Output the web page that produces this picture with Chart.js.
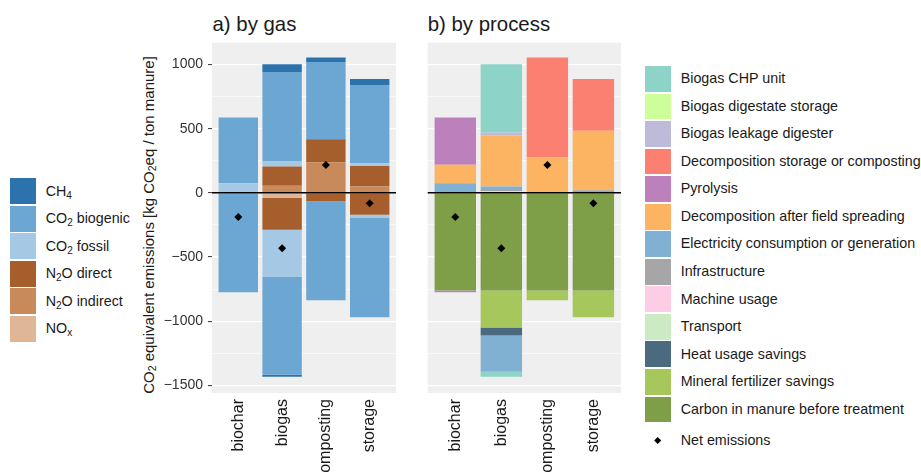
<!DOCTYPE html>
<html>
<head>
<meta charset="utf-8">
<script src="https://cdn.jsdelivr.net/npm/chart.js@4/dist/chart.umd.min.js"></script>
<style>
  html, body { margin: 0; padding: 0; background: #fff; }
  body { width: 921px; height: 473px; position: relative; overflow: hidden;
         font-family: "Liberation Sans", Arial, sans-serif; color: #1a1a1a; }
  .wrap { position: absolute; top: 0; }
  #wrapA { left: 130px; width: 270px; height: 473px; }
  #wrapB { left: 420px; width: 205px; height: 473px; }
  .title { position: absolute; top: 14px; font-size: 20.4px; line-height: 1; white-space: nowrap; }
  #ytitle { position: absolute; left: 148px; top: 225px; font-size: 15px; line-height: 1;
            white-space: nowrap; transform: translate(-50%, -50%) rotate(-90deg); }
  sub { font-size: 70%; vertical-align: -0.28em; line-height: 0; }
  .legend { position: absolute; }
  .row { position: relative; height: 27.55px; }
  .key { position: absolute; left: 0; top: 0.8px; width: 25.8px; height: 25.8px; }
  .lab { position: absolute; top: 0; height: 27.55px; line-height: 27.55px; font-size: 14.3px; white-space: nowrap; }
  #legA { left: 10px; top: 177.5px; }
  #legA .lab { left: 35.7px; }
  #legB { left: 645px; top: 65.2px; }
  #legB .lab { left: 35.7px; }
  #netKey { position: absolute; left: 645px; top: 427px; width: 200px; height: 27.5px; }
  #netKey .dia { position: absolute; left: 10px; top: 11px; width: 5.4px; height: 5.4px; background: #000; transform: rotate(45deg); }
  #netKey .lab { left: 35.7px; }
</style>
</head>
<body>
<div class="title" style="left:212.5px">a) by gas</div>
<div class="title" style="left:427.7px">b) by process</div>
<div id="ytitle">CO<sub>2</sub> equivalent emissions [kg CO<sub>2</sub>eq / ton manure]</div>
<div class="wrap" id="wrapA"><canvas id="chartA" width="270" height="473"></canvas></div>
<div class="wrap" id="wrapB"><canvas id="chartB" width="205" height="473"></canvas></div>
<div class="legend" id="legA"></div>
<div class="legend" id="legB"></div>
<div id="netKey"><div class="dia"></div><div class="lab">Net emissions</div></div>

<script>
// Treatments shown on the x axis
const processes = ['biochar', 'biogas', 'composting', 'storage'];
const yLimits = [-1560, 1170];
const yTickStep = 250;
const yLabelStep = 500;

// Net emissions per treatment (kg CO2eq / ton manure)
const netEmissions = [-188, -431, 217, -81];

// a) by gas: emitting (+) and avoided/stored (-) parts
const ch4Up = [0, 62, 34, 47];
const ch4Down = [0, -16, 0, 0];
const co2BiogenicUp = [512, 697, 602, 610];
const co2BiogenicDown = [-775, -766, -772, -772];
const co2FossilUp = [75, 39, 0, 21];
const co2FossilDown = [0, -364, 0, -26];
const n2oDirectUp = [0, 150, 182, 161];
const n2oDirectDown = [0, -247, -65, -171];
const n2oIndirectUp = [0, 55, 236, 49];
const noxDown = [0, -41, 0, 0];

// b) by process
const chpUnitUp = [0, 533, 0, 0];
const chpUnitDown = [0, -39, 0, 0];
const digestateStorage = [0, 0, 0, 0];
const leakageDigester = [0, 26, 0, 0];
const decompositionStorage = [0, 0, 776, 405];
const pyrolysisUp = [369, 0, 0, 0];
const pyrolysisDown = [-13, 0, 0, 0];
const fieldSpreading = [143, 395, 278, 462];
const electricityUp = [75, 26, 0, 0];
const electricityDown = [0, -283, 0, 0];
const infrastructure = [0, 10, 0, 21];
const machineUsage = [0, 13, 0, 0];
const transport = [0, 0, 0, 0];
const heatSavings = [0, -62, 0, 0];
const mineralSavings = [0, -288, -75, -207];
const carbonInManure = [-762, -762, -762, -762];

// Palettes
const gasColors = {
  ch4: '#2c73ad', co2b: '#6ca7d3', co2f: '#a5c8e5',
  n2od: '#a65e2d', n2oi: '#c98a5b', nox: '#dfb696'
};
const procColors = {
  chp: '#8dd3c7', digestate: '#ccff99', leakage: '#bebada', decomp: '#fb8072',
  pyro: '#bc80bd', field: '#fdb462', elec: '#80b1d3', infra: '#a6a6a6',
  machine: '#fccde5', transport: '#ccebc5', heat: '#4b6a80', mineral: '#a5c75b',
  carbon: '#7f9e48'
};

const FONT = '"Liberation Sans", Arial, sans-serif';
const toPoints = vals => vals.map((v, i) => ({ x: i + 1, y: v }));

function barSet(label, color, values) {
  return {
    type: 'bar', label, data: toPoints(values), backgroundColor: color,
    borderWidth: 0, stack: 'total', categoryPercentage: 1, barPercentage: 0.9, order: 2
  };
}
function netSet() {
  return {
    type: 'scatter', label: 'Net emissions', data: toPoints(netEmissions),
    pointStyle: 'rectRot', radius: 4, hoverRadius: 4, backgroundColor: '#000',
    borderWidth: 0, order: 0
  };
}
const fmt = v => (v < 0 ? '\u2212' + Math.abs(v) : String(v));

// gridline values: every yTickStep inside the limits
function yGridValues() {
  const out = [];
  for (let v = Math.ceil(yLimits[0] / yTickStep) * yTickStep; v <= yLimits[1]; v += yTickStep) out.push({ value: v });
  return out;
}

// panel background and zero reference line
const panelPlugin = {
  id: 'panel',
  beforeDraw(chart) {
    const { ctx, chartArea: a } = chart;
    ctx.save();
    ctx.fillStyle = '#efefef';
    ctx.fillRect(a.left, a.top, a.right - a.left, a.bottom - a.top);
    ctx.restore();
  },
  afterDatasetsDraw(chart) {
    const { ctx, chartArea: a, scales } = chart;
    const y0 = scales.y.getPixelForValue(0);
    ctx.save();
    ctx.strokeStyle = '#000';
    ctx.lineWidth = 1.5;
    ctx.beginPath();
    ctx.moveTo(a.left, y0);
    ctx.lineTo(a.right, y0);
    ctx.stroke();
    ctx.restore();
  }
};

function makeOptions(showY, yWidth, padLeft) {
  const isMajor = ctx => ctx.tick && ctx.tick.value % yLabelStep === 0;
  return {
    responsive: false, animation: false, devicePixelRatio: 1,
    layout: { padding: { top: 42.7, right: 3.3, left: padLeft, bottom: 0 } },
    plugins: { legend: { display: false }, tooltip: { enabled: false }, title: { display: false } },
    scales: {
      x: {
        type: 'linear', min: 0.4, max: 4.6, offset: false,
        grid: { display: false, drawTicks: false, offset: false }, border: { display: false },
        afterBuildTicks: s => { s.ticks = processes.map((_, i) => ({ value: i + 1 })); },
        afterFit: s => { s.height = 80; },
        ticks: {
          autoSkip: false, minRotation: 90, maxRotation: 90, padding: 6,
          callback: v => processes[Math.round(v) - 1],
          font: { family: FONT, size: 16 }, color: '#1a1a1a'
        }
      },
      y: {
        type: 'linear', min: yLimits[0], max: yLimits[1],
        border: { display: false },
        afterBuildTicks: s => { s.ticks = yGridValues(); },
        afterFit: s => { s.width = yWidth; },
        grid: {
          color: '#ffffff',
          lineWidth: ctx => (isMajor(ctx) ? 1.2 : 0.6),
          drawTicks: showY, tickLength: 4, tickWidth: 1,
          tickColor: ctx => (isMajor(ctx) ? '#333333' : 'rgba(0,0,0,0)')
        },
        ticks: {
          display: showY, autoSkip: false,
          padding: 5, font: { family: FONT, size: 14 }, color: '#333333',
          callback: v => (v % yLabelStep === 0 ? fmt(v) : '')
        }
      }
    }
  };
}

// a) by gas: datasets listed from the zero line outwards
const gasDatasets = [
  barSet('NOx', gasColors.nox, noxDown),
  barSet('N2O indirect', gasColors.n2oi, n2oIndirectUp),
  barSet('N2O direct', gasColors.n2od, n2oDirectUp),
  barSet('N2O direct', gasColors.n2od, n2oDirectDown),
  barSet('CO2 fossil', gasColors.co2f, co2FossilUp),
  barSet('CO2 fossil', gasColors.co2f, co2FossilDown),
  barSet('CO2 biogenic', gasColors.co2b, co2BiogenicUp),
  barSet('CO2 biogenic', gasColors.co2b, co2BiogenicDown),
  barSet('CH4', gasColors.ch4, ch4Up),
  barSet('CH4', gasColors.ch4, ch4Down),
  netSet()
];

// b) by process
const procDatasets = [
  barSet('Carbon in manure before treatment', procColors.carbon, carbonInManure),
  barSet('Mineral fertilizer savings', procColors.mineral, mineralSavings),
  barSet('Heat usage savings', procColors.heat, heatSavings),
  barSet('Transport', procColors.transport, transport),
  barSet('Machine usage', procColors.machine, machineUsage),
  barSet('Infrastructure', procColors.infra, infrastructure),
  barSet('Electricity consumption or generation', procColors.elec, electricityUp),
  barSet('Electricity consumption or generation', procColors.elec, electricityDown),
  barSet('Decomposition after field spreading', procColors.field, fieldSpreading),
  barSet('Pyrolysis', procColors.pyro, pyrolysisUp),
  barSet('Pyrolysis', procColors.pyro, pyrolysisDown),
  barSet('Decomposition storage or composting', procColors.decomp, decompositionStorage),
  barSet('Biogas leakage digester', procColors.leakage, leakageDigester),
  barSet('Biogas digestate storage', procColors.digestate, digestateStorage),
  barSet('Biogas CHP unit', procColors.chp, chpUnitUp),
  barSet('Biogas CHP unit', procColors.chp, chpUnitDown),
  netSet()
];

new Chart(document.getElementById('chartA'), {
  type: 'bar', data: { datasets: gasDatasets },
  options: makeOptions(true, 82, 0), plugins: [panelPlugin]
});
new Chart(document.getElementById('chartB'), {
  type: 'bar', data: { datasets: procDatasets },
  options: makeOptions(false, 0, 7.7), plugins: [panelPlugin]
});

// legends
const gasLegend = [
  ['CH<sub>4</sub>', gasColors.ch4], ['CO<sub>2</sub> biogenic', gasColors.co2b],
  ['CO<sub>2</sub> fossil', gasColors.co2f], ['N<sub>2</sub>O direct', gasColors.n2od],
  ['N<sub>2</sub>O indirect', gasColors.n2oi], ['NO<sub>x</sub>', gasColors.nox]
];
const procLegend = [
  ['Biogas CHP unit', procColors.chp], ['Biogas digestate storage', procColors.digestate],
  ['Biogas leakage digester', procColors.leakage], ['Decomposition storage or composting', procColors.decomp],
  ['Pyrolysis', procColors.pyro], ['Decomposition after field spreading', procColors.field],
  ['Electricity consumption or generation', procColors.elec], ['Infrastructure', procColors.infra],
  ['Machine usage', procColors.machine], ['Transport', procColors.transport],
  ['Heat usage savings', procColors.heat], ['Mineral fertilizer savings', procColors.mineral],
  ['Carbon in manure before treatment', procColors.carbon]
];
function fillLegend(id, items) {
  document.getElementById(id).innerHTML = items.map(([t, c]) =>
    '<div class="row"><div class="key" style="background:' + c + '"></div><div class="lab">' + t + '</div></div>'
  ).join('');
}
fillLegend('legA', gasLegend);
fillLegend('legB', procLegend);
</script>
</body>
</html>
